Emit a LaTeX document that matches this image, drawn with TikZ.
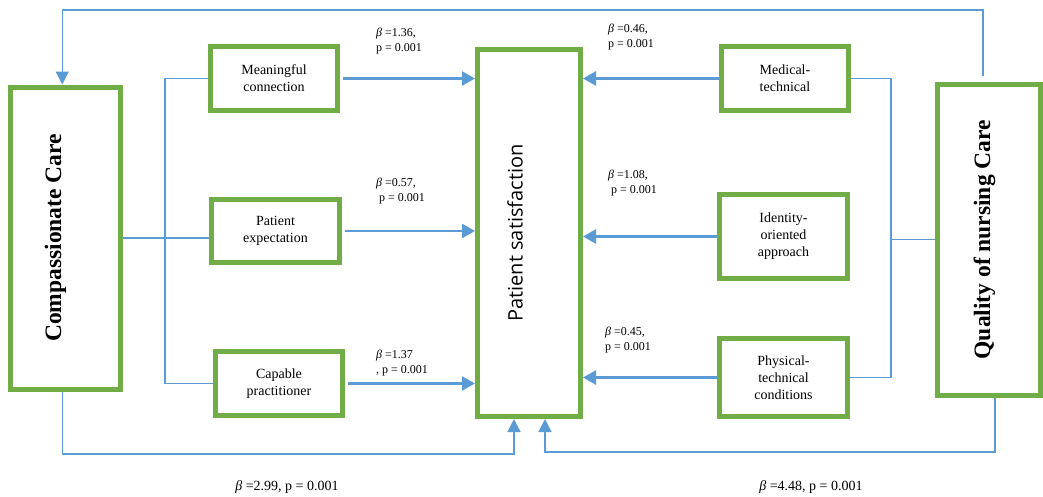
\documentclass[tikz,border=0pt]{standalone}
\usepackage{fontspec}
\setmainfont{Liberation Serif}
\newfontfamily\satfont{Open Sans}
\usetikzlibrary{arrows.meta}
\definecolor{boxgreen}{RGB}{112,173,71}
\definecolor{linkblue}{RGB}{91,155,213}
\tikzset{
  factorbox/.style={draw=boxgreen, line width=5pt, fill=white, align=center, inner sep=0pt, font=\fontsize{14}{17}\selectfont},
  bigtext/.style={rotate=90, anchor=base, font=\bfseries\fontsize{23.5}{28}\selectfont},
  link/.style={draw=linkblue, line width=1.2pt},
  linkarrow/.style={link, -{Triangle[length=13pt,width=13pt]}},
  patharrow/.style={draw=linkblue, line width=2.6pt, -{Triangle[length=13pt,width=14pt]}},
  coef/.style={anchor=base west, align=left, inner sep=0pt, font=\fontsize{12}{15}\selectfont},
  total/.style={anchor=base, inner sep=0pt, font=\fontsize{14}{17}\selectfont}
}

\begin{document}
\begin{tikzpicture}[x=1pt, y=-1pt]
	\useasboundingbox (0,0) rectangle (1043,496);
	
	% outer constructs
	\node[factorbox, minimum width=109.5pt, minimum height=302pt] (comp) at (65.25,238) {};
	\node[bigtext] (compt) at ([xshift=-4.25pt]comp.center) {Compassionate Care};
	\node[factorbox, minimum width=103pt, minimum height=311.5pt] (qual) at (989,239.75) {};
	\node[bigtext] (qualt) at ([xshift=1pt]qual.center) {Quality of nursing Care};
	
	% outcome
	\node[factorbox, minimum width=103pt, minimum height=367pt] (sat) at (529,233) {};
	\node[rotate=90, anchor=base, font=\satfont\fontsize{20}{24}\selectfont] (satt) at ([xshift=-6.3pt]sat.center) {Patient satisfaction};
	
	% dimensions
	\node[factorbox, minimum width=127pt, minimum height=64pt] (mean) at (274,78.5) {Meaningful\\connection};
	\node[factorbox, minimum width=128pt, minimum height=63pt] (expe) at (275.5,231) {Patient\\expectation};
	\node[factorbox, minimum width=127pt, minimum height=64pt] (capa) at (279,383.5) {Capable\\practitioner};
	\node[factorbox, minimum width=127pt, minimum height=64pt] (medi) at (785,78.5) {Medical-\\technical};
	\node[factorbox, minimum width=128pt, minimum height=84pt] (iden) at (783.5,236.5) {Identity-\\oriented\\approach};
	\node[factorbox, minimum width=128pt, minimum height=78pt] (phys) at (783.5,377.5) {Physical-\\technical\\conditions};
	
	% rails
	\coordinate (toprail) at (0,10);
	\coordinate (lefttrack) at (165,0);
	\coordinate (righttrack) at (891,0);
	\coordinate (botleft) at (0,454);
	\coordinate (botright) at (0,452);
	\coordinate (compin) at ([xshift=-3pt]comp.north);
	\coordinate (compout) at ([xshift=-3pt]comp.south);
	\coordinate (qualout) at ([xshift=-6pt,yshift=6pt]qual.north);
	\coordinate (qualdown) at ([xshift=6pt]qual.south);
	\coordinate (satinl) at ([xshift=-15pt]sat.south);
	\coordinate (satinr) at ([xshift=16pt]sat.south);
	
	% brackets
	\draw[link] (mean.west) -| (lefttrack |- capa.west) -- (capa.west);
	\draw[link] (comp.east) -- (comp.east -| expe.west);
	\draw[link] (medi.east) -| (righttrack |- phys.east) -- (phys.east);
	\draw[link] (righttrack |- qual.west) -- (qual.west);
	
	% paths
	\foreach \src in {mean,expe,capa}
		\draw[patharrow, shorten <=3pt] (\src.east) -- (\src.east -| sat.west);
	\foreach \src in {medi,iden,phys}
		\draw[patharrow] (\src.west) -- (\src.west -| sat.east);
	
	% feedback and total effects
	\draw[linkarrow] (qualout) |- (compin |- toprail) -- (compin);
	\draw[linkarrow] (compout) |- (satinl |- botleft) -- (satinl);
	\draw[linkarrow] (qualdown) |- (satinr |- botright) -- (satinr);
	
	% coefficients
	\node[coef] (b1) at (376,51) {\textit{β} =1.36,\\ p = 0.001};
	\node[coef] (b2) at (376,201.5) {\textit{β} =0.57,\\\hspace{3pt}p = 0.001};
	\node[coef] (b3) at (376,373.3) {\textit{β} =1.37\\, p = 0.001};
	\node[coef] (b4) at (608,47.3) {\textit{β} =0.46,\\p = 0.001};
	\node[coef] (b5) at (608,193.3) {\textit{β} =1.08,\\\hspace{3pt}p = 0.001};
	\node[coef] (b6) at (605,350) {\textit{β} =0.45,\\p = 0.001};
	\node[total] (b7) at (287,490.7) {\textit{β} =2.99, p = 0.001};
	\node[total] (b8) at (811,490.7) {\textit{β} =4.48, p = 0.001};
\end{tikzpicture}
\end{document}
